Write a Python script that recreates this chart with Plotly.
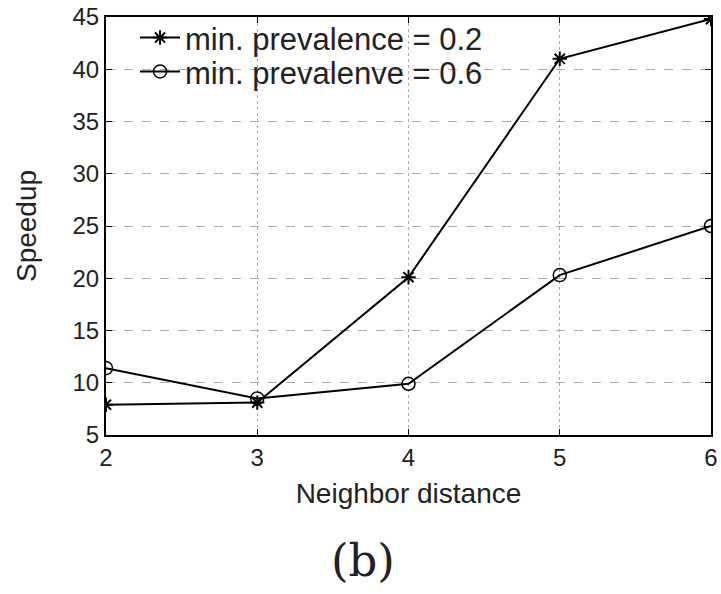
import plotly.graph_objects as go

neighbor_distance = [2, 3, 4, 5, 6]
speedup_prev_02 = [7.9, 8.1, 20.1, 41.0, 44.8]
speedup_prev_06 = [11.4, 8.5, 9.9, 20.3, 25.0]
series_names = ["min. prevalence = 0.2", "min. prevalenve = 0.6"]
y_ticks = [5, 10, 15, 20, 25, 30, 35, 40, 45]
x_ticks = [2, 3, 4, 5, 6]

FONT = "Liberation Sans, Arial, Helvetica, sans-serif"

fig = go.Figure()
fig.add_trace(go.Scatter(
    x=neighbor_distance, y=speedup_prev_02, name=series_names[0],
    mode="lines+markers", legend="legend",
    line=dict(color="black", width=2),
    marker=dict(symbol="asterisk-open", size=12, color="black", line=dict(color="black", width=2)),
))
fig.add_trace(go.Scatter(
    x=neighbor_distance, y=speedup_prev_06, name=series_names[1],
    mode="lines+markers", legend="legend2",
    line=dict(color="black", width=2),
    marker=dict(symbol="circle-open", size=13, color="black", line=dict(color="black", width=1.5)),
))

leg_common = dict(xanchor="left", yanchor="middle", bgcolor="rgba(0,0,0,0)", borderwidth=0,
                  font=dict(family=FONT, size=31, color="#222"), itemwidth=40)

fig.update_layout(
    width=721, height=594,
    margin=dict(l=106, r=10, t=17, b=159, autoexpand=False),
    paper_bgcolor="white", plot_bgcolor="white",
    font=dict(family=FONT, size=24, color="#222"),
    showlegend=True,
    legend=dict(x=0.048, y=0.950, **leg_common),
    legend2=dict(x=0.048, y=0.869, **leg_common),
    xaxis=dict(
        range=[2, 6], tickvals=x_ticks, ticks="inside", ticklen=6, tickcolor="black",
        showline=True, linecolor="black", linewidth=2, mirror="ticks",
        showgrid=True, gridcolor="#aaaaaa", griddash="dot", gridwidth=1.2,
        zeroline=False, automargin=False,
        title=dict(text="Neighbor distance", standoff=14, font=dict(size=28)),
        tickfont=dict(size=24),
    ),
    yaxis=dict(
        range=[5, 45], tickvals=y_ticks, ticks="inside", ticklen=6, tickcolor="black",
        showline=True, linecolor="black", linewidth=2, mirror="ticks",
        showgrid=True, gridcolor="#aaaaaa", griddash="dash", gridwidth=1.2,
        zeroline=False, automargin=False,
        title=dict(text="Speedup", standoff=28, font=dict(size=28)),
        tickfont=dict(size=24),
    ),
    shapes=[dict(
        type="rect", xref="x domain", yref="y domain",
        x0=0.015, x1=0.494, y0=0.82, y1=0.996,
        fillcolor="white", line=dict(width=0), layer="below",
    )],
    annotations=[dict(
        text="(b)", x=0.425, y=-0.3, xref="paper", yref="paper",
        xanchor="center", yanchor="middle", showarrow=False,
        font=dict(family="DejaVu Serif, Liberation Serif, serif", size=45, color="#222"),
    )],
)

fig.write_html("out.html", config={"displayModeBar": False},
               post_script="document.body.style.margin='0';document.body.style.overflow='hidden';")
